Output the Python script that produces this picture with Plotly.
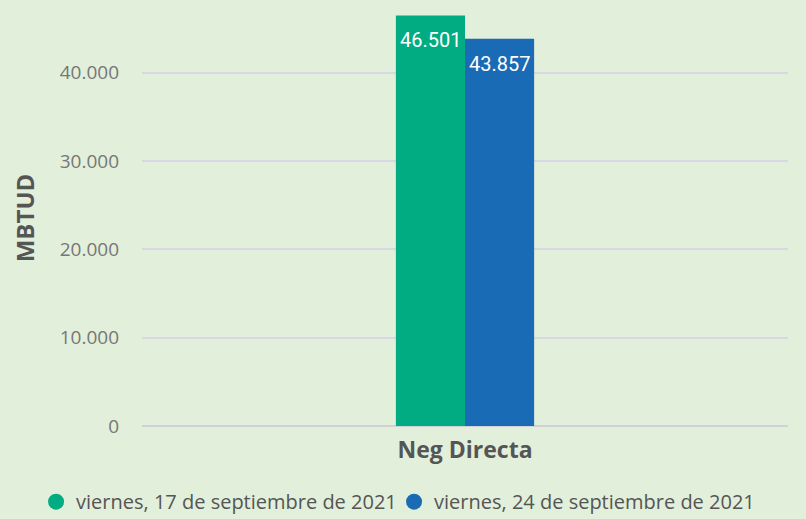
import plotly.graph_objects as go

categories = ["Neg Directa"]
series_names = ["viernes, 17 de septiembre de 2021", "viernes, 24 de septiembre de 2021"]
series_values = [[46501], [43857]]
colors = ["#01AC82", "#1A6BB5"]
tick_vals = [0, 10000, 20000, 30000, 40000]
tick_text = ["0", "10.000", "20.000", "30.000", "40.000"]

BG = "#E2EFDA"
W, H = 806, 519
ML, MR, MT, MB = 142, 18, 10, 93
BARGAP = 0.786

fig = go.Figure()
for name, vals, col in zip(series_names, series_values, colors):
    fig.add_trace(go.Bar(
        x=categories, y=vals, name=name, marker_color=col, marker_line_width=0,
        showlegend=False, hoverinfo="x+y+name",
    ))
    fig.add_trace(go.Scatter(
        x=[None], y=[None], mode="markers", name=name,
        marker=dict(color=col, size=20, symbol="circle"), showlegend=True,
    ))

# data labels placed on each bar via the category axis, shifted by half a bar
plot_w = W - ML - MR
n_series = len(series_values)
bar_w = plot_w / len(categories) * (1 - BARGAP) / n_series
for i, vals in enumerate(series_values):
    off = (i - (n_series - 1) / 2) * bar_w
    for c, v in zip(categories, vals):
        fig.add_annotation(
            x=c, y=v, xref="x", yref="y", xshift=off, yshift=-25,
            text=f"{v:,.0f}".replace(",", "."), showarrow=False,
            yanchor="middle", xanchor="center",
            font=dict(color="white", size=20, family="Roboto"),
        )

fig.update_layout(
    width=W, height=H,
    paper_bgcolor=BG, plot_bgcolor=BG,
    separators=",.",
    margin=dict(l=ML, r=MR, t=MT, b=MB, autoexpand=False),
    barmode="group", bargap=BARGAP, bargroupgap=0,
    font=dict(family="Open Sans", color="#666666"),
    legend=dict(orientation="h", x=-0.164, xanchor="left", y=-0.135, yanchor="top",
                font=dict(size=20, color="#555555"), itemwidth=30,
                entrywidth=313, entrywidthmode="pixels",
                bgcolor="rgba(0,0,0,0)", tracegroupgap=0),
    showlegend=True,
)
fig.update_yaxes(
    range=[0, 47112], tickvals=tick_vals, ticktext=tick_text, automargin=False,
    showgrid=True, gridcolor="#D8D8E4", gridwidth=1.5, zeroline=True,
    zerolinecolor="#D0D0D8", zerolinewidth=2,
    tickfont=dict(size=19, color="#777777"), ticklabelstandoff=22,
    title=dict(text="<b>MBTUD</b>", font=dict(size=24, color="#555555"), standoff=18),
)
fig.update_xaxes(
    tickfont=dict(size=23, color="#555555"), showgrid=False, automargin=False,
    tickvals=categories, ticktext=["<b>" + c + "</b>" for c in categories],
    ticklabelstandoff=8,
)
fig.write_html(
    "out.html",
    config={"displayModeBar": False},
    post_script="document.body.style.margin='0';document.body.style.background='%s';document.body.style.overflow='hidden';" % BG,
)
